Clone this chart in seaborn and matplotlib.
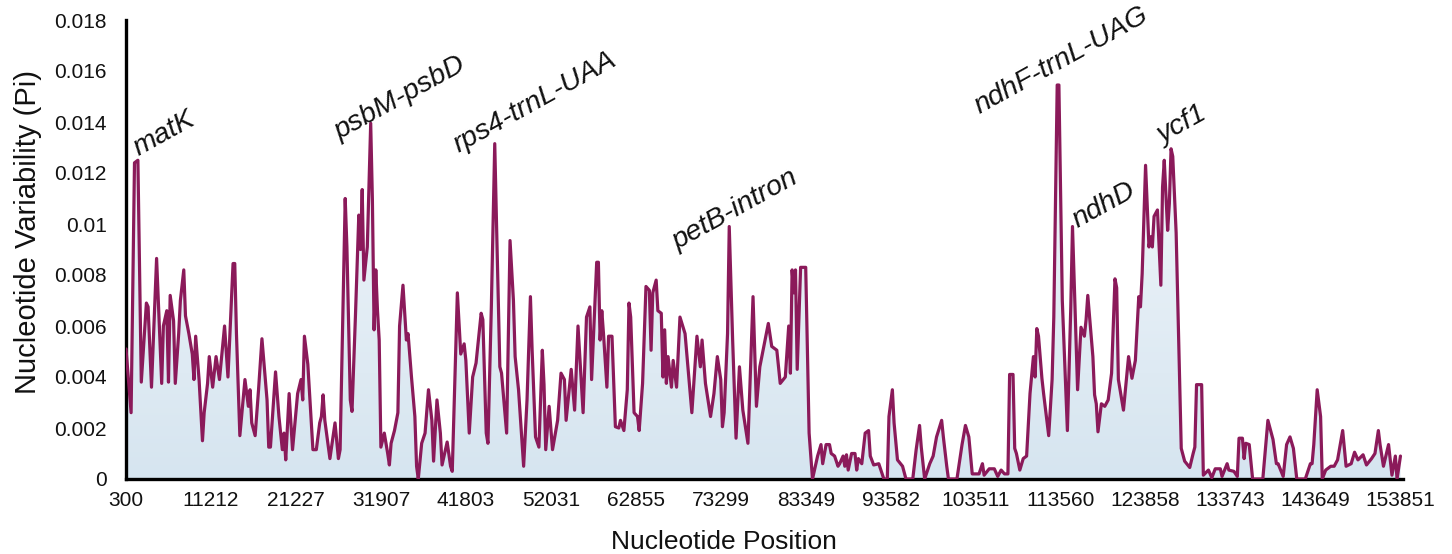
import numpy as np
import pandas as pd
import matplotlib
matplotlib.use("Agg")
import matplotlib.pyplot as plt
import seaborn as sns
from matplotlib.colors import LinearSegmentedColormap

# ---------------- data ----------------
window = [0, 3, 5, 7, 9, 12, 13, 15, 18, 21, 22, 24, 25, 26, 28, 29, 31, 32, 34, 35, 37, 39, 40, 41, 43, 45, 46, 48, 49,
          51, 53, 55, 58, 60, 61, 63, 64, 65, 67, 70, 72, 73, 74, 76, 78, 80, 83, 84, 85, 88, 90, 92, 93, 94, 96, 98,
          101, 103, 104, 105, 107, 110, 112, 114, 115, 116, 117, 120, 123, 125, 126, 129, 130, 132, 133, 135, 137, 138,
          139, 140, 142, 144, 145, 146, 147, 148, 149, 150, 152, 154, 155, 156, 158, 160, 161, 163, 165, 166, 168, 170,
          171, 172, 174, 176, 178, 180, 181, 183, 185, 186, 189, 191, 192, 195, 197, 199, 200, 202, 204, 206, 209, 210,
          212, 213, 215, 217, 218, 220, 221, 224, 226, 228, 229, 231, 234, 236, 238, 239, 241, 243, 245, 246, 247, 249,
          251, 254, 256, 258, 259, 262, 264, 266, 269, 271, 273, 274, 277, 278, 279, 280, 281, 283, 284, 286, 288, 290,
          291, 293, 295, 296, 297, 299, 301, 302, 304, 306, 308, 309, 310, 312, 313, 315, 316, 317, 318, 319, 321, 322,
          324, 326, 329, 333, 336, 338, 339, 341, 344, 346, 348, 350, 351, 352, 354, 355, 357, 359, 361, 363, 366, 367,
          369, 371, 373, 378, 380, 383, 385, 388, 390, 391, 392, 393, 394, 395, 397, 400, 402, 404, 407, 409, 410, 412,
          414, 415, 417, 419, 420, 422, 423, 424, 425, 427, 429, 430, 431, 433, 435, 437, 438, 440, 443, 446, 448, 449,
          451, 452, 454, 457, 459, 463, 465, 467, 468, 470, 473, 475, 477, 480, 481, 483, 484, 489, 492, 494, 496, 498,
          502, 504, 505, 508, 511, 513, 515, 517, 519, 520, 522, 523, 524, 526, 528, 530, 532, 534, 535, 536, 537, 539,
          540, 543, 545, 546, 548, 549, 551, 554, 556, 557, 560, 562, 564, 565, 566, 569, 570, 571, 572, 574, 576, 578,
          580, 582, 583, 584, 587, 590, 592, 594, 596, 597, 598, 600, 602, 603, 604, 605, 607, 609, 610, 611, 613, 614,
          615, 616, 618, 621, 623, 626, 628, 629, 630, 633, 634, 637, 639, 641, 644, 645, 648, 649, 652, 654, 655, 657,
          658, 659, 661, 663, 669, 671, 672, 675, 677, 678, 681, 683, 685, 687, 689, 694, 697, 698, 699, 701, 703, 704,
          706, 709, 711, 713, 716, 718, 721, 723, 725, 728, 730, 733, 735, 737, 738, 740, 743, 745, 747, 748, 750]

pi_x1000 = [5.1, 2.6, 12.4, 12.5, 3.8, 6.9, 6.75, 3.6, 8.65, 3.75, 6.0, 6.6, 3.8, 7.2, 6.2, 3.75, 5.7, 7.0, 8.2, 6.4, 5.7,
            4.9, 3.9, 5.6, 3.9, 1.5, 2.6, 3.75, 4.8,
            3.6, 4.8, 3.9, 6.0, 4.0, 5.45, 8.45, 8.45, 5.7, 1.7, 3.9, 2.85, 3.5, 2.2, 1.7, 3.5, 5.5, 3.1, 1.25, 1.25,
            4.2, 2.45, 1.15, 1.8, 0.75, 3.35, 1.15,
            3.35, 3.9, 3.1, 5.6, 4.5, 1.15, 1.15, 2.2, 2.45, 3.3, 2.3, 0.8, 2.2, 0.8, 1.15, 11.0, 9.1, 3.1, 2.65, 6.35,
            10.35, 9.0,
            11.35, 7.8, 9.1, 13.95, 10.95, 5.85, 8.2, 6.6, 5.45, 1.25, 1.8, 1.0, 0.55, 1.4, 1.9, 2.6, 6.0, 7.6, 5.45,
            5.7, 4.0, 2.45,
            0.5, 0.0, 1.4, 1.8, 3.5, 2.3, 0.7, 3.1, 1.8, 0.55, 1.45, 0.5, 0.3, 7.3, 4.9, 5.3, 4.65, 1.8, 4.0, 4.55, 6.5,
            6.25,
            1.8, 1.4, 6.75, 13.15, 10.15, 4.4, 4.15, 1.8, 9.35, 7.0, 4.8, 3.5, 0.5, 3.1, 7.15, 5.05, 1.65, 1.25, 5.05,
            3.7, 1.15, 2.85,
            1.15, 2.3, 4.15, 3.9, 2.3, 4.3, 2.7, 6.0, 2.6, 6.35, 6.75, 3.9, 8.5, 8.5, 5.45, 6.6, 5.7, 3.6, 5.6, 5.6,
            2.05, 2.0,
            2.3, 1.9, 3.5, 6.9, 6.35, 2.6, 2.45, 1.9, 3.75, 7.55, 7.4, 5.05, 7.3, 7.8, 6.6, 6.5, 4.0, 5.85, 3.75, 4.8,
            3.6, 4.65,
            3.6, 6.35, 5.7, 2.6, 5.6, 4.4, 5.45, 3.75, 2.45, 3.35, 4.8, 3.9, 2.05, 2.6, 5.7, 9.9, 5.45, 1.6, 4.4, 2.7,
            1.4, 3.35,
            7.15, 2.85, 4.4, 6.1, 5.2, 5.05, 3.75, 4.0, 6.0, 4.15, 8.2, 7.3, 8.2, 4.3, 8.3, 8.3, 1.8, 0.0, 0.9, 1.35,
            0.6, 1.35,
            1.35, 1.0, 0.9, 0.5, 0.6, 0.9, 0.5, 0.95, 0.35, 1.0, 1.0, 0.35, 0.8, 0.6, 1.8, 1.9, 0.9, 0.55, 0.6, 0.0,
            0.0, 2.45,
            3.5, 2.2, 0.75, 0.5, 0.0, 0.0, 1.15, 2.1, 1.25, 0.0, 0.6, 0.9, 1.65, 2.3, 1.65, 0.5, 0.0, 0.0, 1.35, 2.1,
            1.65, 0.2,
            0.2, 0.6, 0.15, 0.4, 0.4, 0.1, 0.35, 0.2, 0.2, 4.1, 4.1, 1.2, 1.0, 0.35, 0.8, 0.9, 3.35, 4.8, 4.0, 5.9, 5.6,
            3.95,
            3.35, 1.7, 3.9, 6.35, 15.45, 15.45, 7.0, 1.9, 6.75, 9.9, 3.5, 5.95, 5.6, 6.25, 7.2, 4.8, 3.3, 2.95, 1.85,
            2.95, 2.85, 3.1,
            4.15, 7.85, 7.5, 3.9, 2.7, 4.8, 3.95, 4.65, 7.15, 6.75, 8.05, 12.3, 9.1, 9.5, 9.1, 10.3, 10.55, 7.6, 11.45,
            12.5, 9.75, 10.8,
            12.95, 12.65, 9.65, 1.2, 0.7, 0.45, 1.0, 1.25, 3.7, 3.7, 0.15, 0.35, 0.05, 0.4, 0.4, 0.1, 0.6, 0.35, 0.3,
            0.1, 1.6, 1.6,
            0.8, 1.4, 1.35, 0.0, 0.0, 1.55, 2.3, 1.55, 0.6, 0.6, 0.1, 1.35, 1.65, 1.2, 0.0, 0.0, 0.6, 0.6, 1.35, 3.5,
            2.45, 0.0,
            0.35, 0.5, 0.5, 0.75, 1.9, 0.5, 0.6, 1.05, 0.75, 0.95, 0.55, 0.8, 1.0, 1.9, 1.35, 0.5, 1.35, 0.15, 0.9, 0.0,
            0.9]

tick_windows = [0, 50, 100, 150, 200, 250, 300, 350, 400, 450, 500, 550, 600, 650, 700, 750]
tick_labels = ["300", "11212", "21227", "31907", "41803", "52031", "62855", "73299", "83349",
               "93582", "103511", "113560", "123858", "133743", "143649", "153851"]

y_ticks = [0, 0.002, 0.004, 0.006, 0.008, 0.01, 0.012, 0.014, 0.016, 0.018]
y_tick_labels = ["0", "0.002", "0.004", "0.006", "0.008", "0.01", "0.012", "0.014", "0.016", "0.018"]

region_names = ["matK", "psbM-psbD", "rps4-trnL-UAA", "petB-intron", "ndhF-trnL-UAG", "ndhD", "ycf1"]
region_anchor_w = [7.5, 126, 196, 325, 502, 560, 610]
region_anchor_pi = [0.01265, 0.01330, 0.01280, 0.00900, 0.01430, 0.00985, 0.01315]

# ---------------- style ----------------
sns.set_theme(style="white")
plt.rcParams["font.family"] = ["Liberation Sans", "DejaVu Sans"]

line_color = "#8B1A5A"

df = pd.DataFrame({"window": window, "pi": np.array(pi_x1000) / 1000.0})

fig = plt.figure(figsize=(14.52, 5.54), dpi=100)
ax = fig.add_axes([126 / 1452, 1 - 479 / 554, (1403 - 126) / 1452, (479 - 20) / 554])

# gradient fill under the curve
fill = ax.fill_between(df["window"], 0, df["pi"], facecolor="none", edgecolor="none")
cmap = LinearSegmentedColormap.from_list("fillgrad", ["#d6e5f0", "#e6eff6", "#ffffff"])
grad = np.linspace(0, 1, 256).reshape(-1, 1)
img = ax.imshow(grad, cmap=cmap, origin="lower", aspect="auto",
                extent=(0, 750, 0, 0.0165), zorder=1)
img.set_clip_path(fill.get_paths()[0], transform=ax.transData)

sns.lineplot(data=df, x="window", y="pi", ax=ax, color=line_color, linewidth=2.3,
             sort=False, estimator=None, zorder=3)

ax.set_xlim(0, 751.5)
ax.set_ylim(0, 0.018)
ax.set_xticks(tick_windows)
ax.set_xticklabels(tick_labels, fontsize=15)
ax.set_yticks(y_ticks)
ax.set_yticklabels(y_tick_labels, fontsize=15)
ax.tick_params(axis="both", length=0, colors="#111111")
ax.tick_params(axis="x", pad=9)
ax.tick_params(axis="y", pad=14)

for side in ["top", "right"]:
    ax.spines[side].set_visible(False)
for side in ["left", "bottom"]:
    ax.spines[side].set_color("black")
    ax.spines[side].set_linewidth(2.4)

ax.set_xlabel("Nucleotide Position", fontsize=19, color="#111111")
ax.set_ylabel("Nucleotide Variability (Pi)", fontsize=21, color="#111111")
ax.xaxis.set_label_coords(0.468, -0.137)
ax.yaxis.set_label_coords(-0.077, 0.538)
ax.xaxis.label.set_va("center")
ax.yaxis.label.set_va("center")

for name, wx, py in zip(region_names, region_anchor_w, region_anchor_pi):
    ax.text(wx, py, name, fontsize=20.5, style="italic", rotation=29,
            rotation_mode="anchor", ha="left", va="baseline", color="#111111", zorder=4)

fig.savefig("out.png", dpi=100)
